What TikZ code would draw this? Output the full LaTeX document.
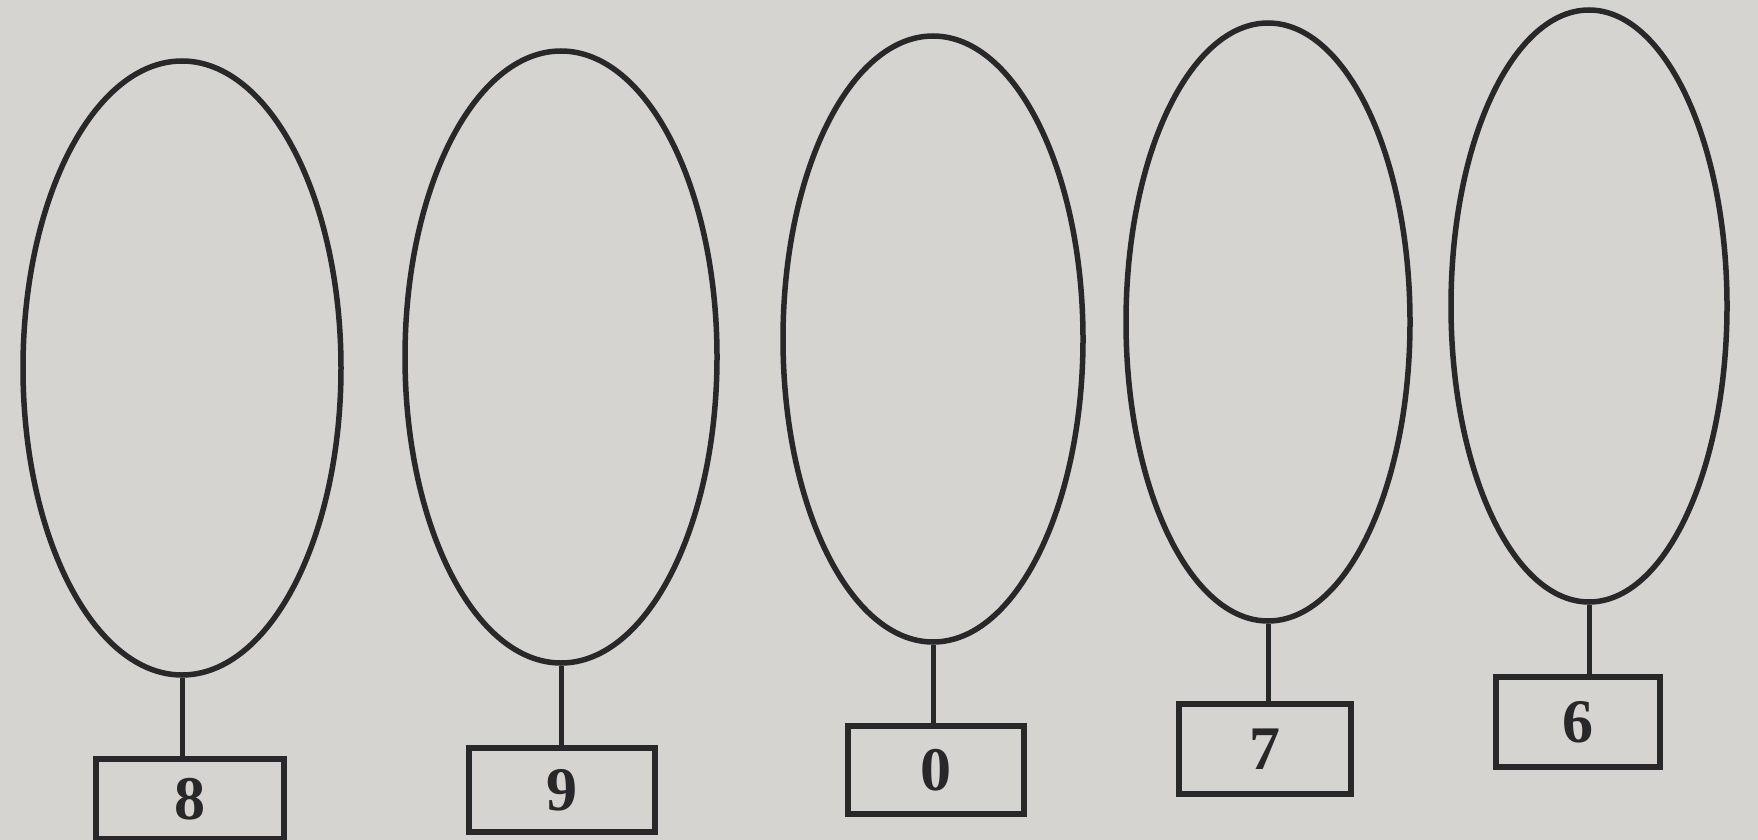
\documentclass[tikz,border=0pt]{standalone}
\usepackage{fontspec}
\setmainfont{Liberation Serif}
\usetikzlibrary{shapes.geometric}
\definecolor{paper}{RGB}{214,212,208}
\definecolor{ink}{RGB}{40,40,42}
\tikzset{
  oval/.style={ellipse, draw=ink, line width=5.5pt, inner sep=0pt},
  numbox/.style={rectangle, draw=ink, line width=5.5pt, inner sep=0pt, font=\fontsize{62}{66}\selectfont\bfseries, text=ink},
  stem/.style={draw=ink, line width=5pt}
}
\begin{document}
\begin{tikzpicture}[x=1pt,y=-1pt]
\fill[paper] (0,0) rectangle (1758,840);
\useasboundingbox (0,0) rectangle (1758,840);
\node[oval, minimum width=318, minimum height=614] (e1) at (182,368) {};
\node[oval, minimum width=312, minimum height=612] (e2) at (561,357) {};
\node[oval, minimum width=300, minimum height=606] (e3) at (933,339) {};
\node[oval, minimum width=284, minimum height=598] (e4) at (1268,322) {};
\node[oval, minimum width=276, minimum height=592] (e5) at (1589,306) {};
\node[numbox, minimum width=188, minimum height=80] (b1) at (190,799) {8};
\node[numbox, minimum width=186, minimum height=84] (b2) at (562,790) {9};
\node[numbox, minimum width=176, minimum height=88] (b3) at (936,770) {0};
\node[numbox, minimum width=172, minimum height=90] (b4) at (1265,749) {7};
\node[numbox, minimum width=164, minimum height=90] (b5) at (1578,722) {6};
\draw[stem] (e1.south) -- (e1.south |- b1.north);
\draw[stem] (e2.south) -- (e2.south |- b2.north);
\draw[stem] (e3.south) -- (e3.south |- b3.north);
\draw[stem] (e4.south) -- (e4.south |- b4.north);
\draw[stem] (e5.south) -- (e5.south |- b5.north);
\end{tikzpicture}
\end{document}
